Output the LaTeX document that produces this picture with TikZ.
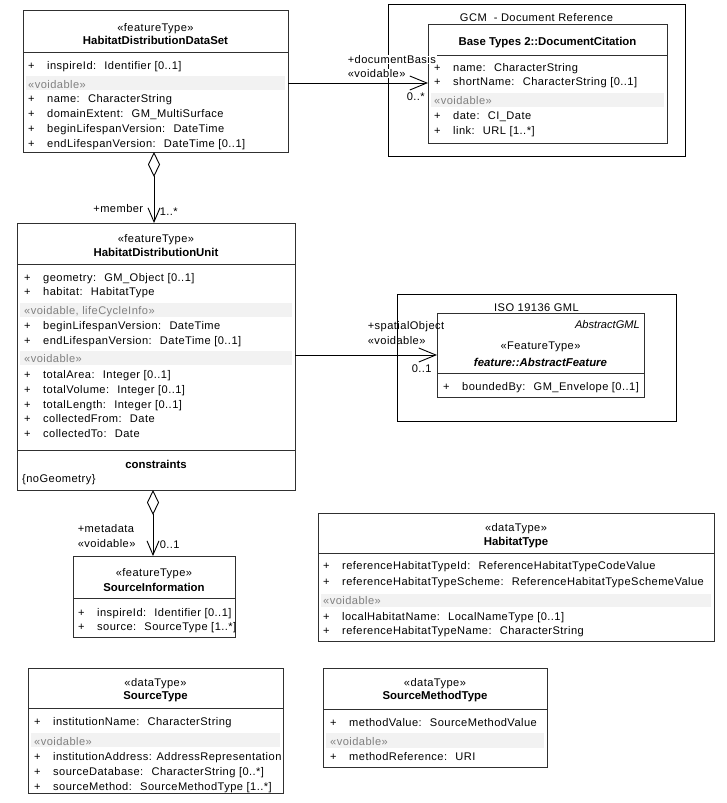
\documentclass[tikz,border=0pt]{standalone}
\usepackage{fontspec}
\setmainfont{Liberation Sans}
\newfontfamily\umlreg[LetterSpace=4]{Liberation Sans}
\usetikzlibrary{arrows.meta,calc}
\definecolor{boxc}{HTML}{303030}
\definecolor{bandc}{HTML}{F2F2F2}
\definecolor{bandtxt}{HTML}{808080}
\tikzset{
  cls/.style={draw=boxc, fill=white, line width=0.9pt, anchor=north west, inner sep=0pt, outer sep=0pt},
  pkg/.style={draw=black, fill=white, line width=0.9pt, anchor=north west, inner sep=0pt, outer sep=0pt},
  sepline/.style={draw=boxc, line width=0.9pt},
  txt/.style={anchor=mid west, inner sep=0pt, yshift=-1.8pt, font=\umlreg\fontsize{11.1}{13}\selectfont},
  gtxt/.style={txt, text=bandtxt},
  ster/.style={inner sep=0pt, yshift=-1.5pt, font=\umlreg\fontsize{11.1}{13}\selectfont},
  ttl/.style={inner sep=0pt, yshift=-1pt, font=\bfseries\fontsize{11.4}{13}\selectfont},
  lbl/.style={inner sep=0.6pt, yshift=-1.8pt, fill=white, font=\umlreg\fontsize{11.1}{13}\selectfont},
  assoc/.style={line width=0.9pt, -{Straight Barb[length=17pt,width=14pt,line width=0.9pt]}},
  agg/.style={line width=0.9pt, {Diamond[open,length=25pt,width=12pt,line width=0.9pt,fill=white]}-{Straight Barb[length=14pt,width=12pt,line width=0.9pt]}},
}
\newcommand\attr[4]{\node[txt] (#1) at (#2,#3) {\makebox[19pt][l]{+}#4};}
\newcommand\vband[7]{\fill[bandc] (#2,#3) rectangle (#4,#5); \node[gtxt] (#1) at (#6,#7) {«voidable»};}
\begin{document}
\begin{tikzpicture}[x=1pt,y=-1pt]
\useasboundingbox (0,0) rectangle (727,803);

% ---------- GCM package ----------
\node[pkg, minimum width=297pt, minimum height=152pt] (gcm) at (388,4) {};
\node[ster] (gcmt) at (536.5,16) {GCM~ - Document Reference};
\node[cls, minimum width=239pt, minimum height=119pt] (dc) at (428,24) {};
\node[ttl] (dct) at (547.5,42) {Base Types 2::DocumentCitation};
\draw[sepline] (428,55) -- (667,55);
\attr{dc1}{434}{67}{name:~ CharacterString}
\attr{dc2}{434}{81}{shortName:~ CharacterString [0..1]}
\vband{dcb}{431}{93}{664}{107}{434}{100}
\attr{dc3}{434}{115}{date:~ CI\_Date}
\attr{dc4}{434}{130}{link:~ URL [1..*]}

% ---------- HabitatDistributionDataSet ----------
\node[cls, minimum width=265pt, minimum height=142pt] (hdds) at (23,10) {};
\node[ster] (hddss) at (155.5,27) {«featureType»};
\node[ttl] (hddst) at (155.5,39.5) {HabitatDistributionDataSet};
\draw[sepline] (23,52) -- (288,52);
\attr{h1}{28}{65}{inspireId:~ Identifier [0..1]}
\vband{hb}{26}{76}{285}{90}{28}{84}
\attr{h2}{28}{98}{name:~ CharacterString}
\attr{h3}{28}{113}{domainExtent:~ GM\_MultiSurface}
\attr{h4}{28}{128}{beginLifespanVersion:~ DateTime}
\attr{h5}{28}{143}{endLifespanVersion:~ DateTime [0..1]}

% ---------- HabitatDistributionUnit ----------
\node[cls, minimum width=278pt, minimum height=267pt] (hdu) at (17,223) {};
\node[ster] (hdus) at (156,238) {«featureType»};
\node[ttl] (hdut) at (156,251) {HabitatDistributionUnit};
\draw[sepline] (17,264) -- (295,264);
\attr{u1}{24}{277}{geometry:~ GM\_Object [0..1]}
\attr{u2}{24}{291}{habitat:~ HabitatType}
\fill[bandc] (20,303) rectangle (292,317);
\node[gtxt] (ub1) at (24,310) {«voidable, lifeCycleInfo»};
\attr{u3}{24}{325}{beginLifespanVersion:~ DateTime}
\attr{u4}{24}{340}{endLifespanVersion:~ DateTime [0..1]}
\vband{ub2}{20}{351}{292}{365}{24}{358}
\attr{u5}{24}{374}{totalArea:~ Integer [0..1]}
\attr{u6}{24}{389}{totalVolume:~ Integer [0..1]}
\attr{u7}{24}{404}{totalLength:~ Integer [0..1]}
\attr{u8}{24}{418}{collectedFrom:~ Date}
\attr{u9}{24}{433}{collectedTo:~ Date}
\draw[sepline] (17,450) -- (295,450);
\node[ttl] (uc) at (156,463) {constraints};
\node[txt] (ucg) at (22,478) {\{noGeometry\}};

% ---------- ISO 19136 GML package ----------
\node[pkg, minimum width=279pt, minimum height=127pt] (gml) at (397,294) {};
\node[ster] (gmlt) at (536.5,306) {ISO 19136 GML};
\node[cls, minimum width=207pt, minimum height=84pt] (af) at (437,313) {};
\node[ster, anchor=mid east, font=\itshape\fontsize{11.1}{13}\selectfont] (afg) at (640,324) {AbstractGML};
\node[ster] (afs) at (540.5,345) {«FeatureType»};
\node[ttl, font=\bfseries\itshape\fontsize{11.4}{13}\selectfont] (aft) at (540.5,361) {feature::AbstractFeature};
\draw[sepline] (437,373) -- (644,373);
\attr{af1}{443}{386}{boundedBy:~ GM\_Envelope [0..1]}

% ---------- SourceInformation ----------
\node[cls, minimum width=162pt, minimum height=81pt] (si) at (73,556) {};
\node[ster] (sis) at (154,572) {«featureType»};
\node[ttl] (sit) at (154,586) {SourceInformation};
\draw[sepline] (73,598) -- (235,598);
\attr{si1}{78}{612}{inspireId:~ Identifier [0..1]}
\attr{si2}{78}{626}{source:~ SourceType [1..*]}

% ---------- HabitatType ----------
\node[cls, minimum width=396pt, minimum height=128pt] (ht) at (318,513) {};
\node[ster] (hts) at (516,527) {«dataType»};
\node[ttl] (htt) at (516,542) {HabitatType};
\draw[sepline] (318,553) -- (714,553);
\attr{ht1}{323}{565}{referenceHabitatTypeId:~ ReferenceHabitatTypeCodeValue}
\attr{ht2}{323}{581}{referenceHabitatTypeScheme:~ ReferenceHabitatTypeSchemeValue}
\vband{htb}{321}{594}{711}{607}{323}{600}
\attr{ht3}{323}{616}{localHabitatName:~ LocalNameType [0..1]}
\attr{ht4}{323}{630}{referenceHabitatTypeName:~ CharacterString}

% ---------- SourceType ----------
\node[cls, minimum width=255pt, minimum height=125pt] (st) at (28,668) {};
\node[ster] (sts) at (155.5,682) {«dataType»};
\node[ttl] (stt) at (155.5,696) {SourceType};
\draw[sepline] (28,708) -- (283,708);
\attr{st1}{34}{721}{institutionName:~ CharacterString}
\vband{stb}{31}{733}{280}{747}{34}{741}
\attr{st2}{34}{756}{institutionAddress: AddressRepresentation}
\attr{st3}{34}{771}{sourceDatabase:~ CharacterString [0..*]}
\attr{st4}{34}{786}{sourceMethod:~ SourceMethodType [1..*]}

% ---------- SourceMethodType ----------
\node[cls, minimum width=224pt, minimum height=99pt] (smt) at (323,668) {};
\node[ster] (smts) at (435,682) {«dataType»};
\node[ttl] (smtt) at (435,696) {SourceMethodType};
\draw[sepline] (323,709) -- (547,709);
\attr{sm1}{330}{722}{methodValue:~ SourceMethodValue}
\vband{smb}{326}{733}{544}{748}{330}{741}
\attr{sm2}{330}{756}{methodReference:~ URI}

% ---------- connectors ----------
\draw[assoc] (hdds.east |- 0,83) -- (dc.west |- 0,83);
\node[lbl, anchor=mid west] (l1a) at (347,59) {+documentBasis};
\node[lbl, anchor=mid west] (l1b) at (347,73) {«voidable»};
\node[lbl, anchor=mid west, fill=none] (l1c) at (406,96) {0..*};

\draw[agg] (hdds.south -| 154,0) -- (hdu.north -| 154,0);
\node[lbl, anchor=mid east] (l2a) at (144,208) {+member};
\node[lbl, anchor=mid west, fill=none] (l2b) at (159,211) {1..*};

\draw[assoc] (hdu.east |- 0,355) -- (af.west |- 0,355);
\node[lbl, anchor=mid west, fill=none] (l3a) at (367,325) {+spatialObject};
\node[lbl, anchor=mid west, fill=none] (l3b) at (367,340) {«voidable»};
\node[lbl, anchor=mid west, fill=none] (l3c) at (411,368) {0..1};

\draw[agg] (hdu.south -| 153,0) -- (si.north -| 153,0);
\node[lbl, anchor=mid west, fill=none] (l4a) at (77,528) {+metadata};
\node[lbl, anchor=mid west, fill=none] (l4b) at (77,543) {«voidable»};
\node[lbl, anchor=mid west, fill=none] (l4c) at (159,544) {0..1};
\end{tikzpicture}
\end{document}
